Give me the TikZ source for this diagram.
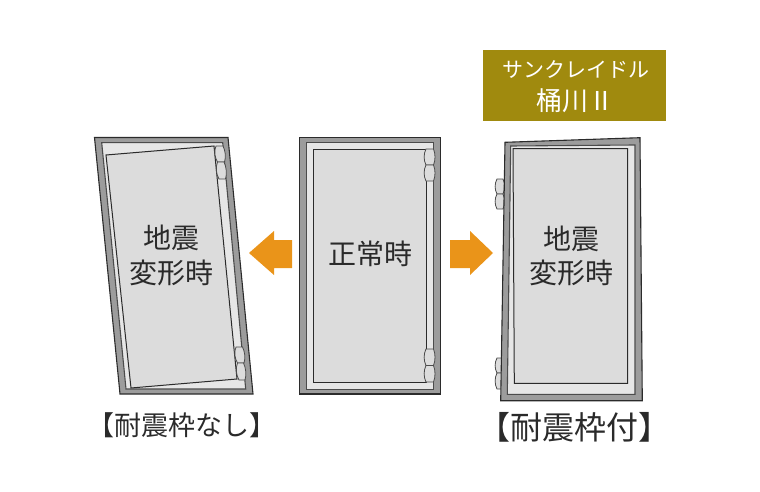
\documentclass[tikz,border=0pt]{standalone}
\usepackage{fontspec}
\setmainfont{Noto Sans CJK JP}
\definecolor{framegray}{HTML}{9C9C9C}
\definecolor{bandgray}{HTML}{E6E6E6}
\definecolor{leafgray}{HTML}{DCDCDC}
\definecolor{inkdark}{HTML}{2B2B2B}
\definecolor{arroworange}{HTML}{EA9419}
\definecolor{bannergold}{HTML}{A08A0E}
\definecolor{textdark}{HTML}{2A2A2A}
\newcommand{\fs}[1]{\fontsize{#1}{#1}\selectfont}
% left x, right x, top y, bottom y, horizontal slant over the height
\newcommand{\hingeshapepath}[5]{%
  \draw[hingeshape]
    ({#1+2},#3) -- ({#2-2},#3)
    .. controls ({#2+#5*0.3},{#3+0.3*(#4-#3)}) and ({#2+#5*0.7},{#3+0.7*(#4-#3)}) .. ({#2-2+#5},#4)
    -- ({#1+2+#5},#4)
    .. controls ({#1+#5*0.7-0.5},{#3+0.7*(#4-#3)}) and ({#1+#5*0.3-0.5},{#3+0.3*(#4-#3)}) .. cycle;}
\tikzset{
  frameshape/.style={draw=inkdark,line width=1.1pt,fill=framegray,line join=miter},
  bandshape/.style={draw=inkdark!85,line width=1.1pt,fill=bandgray},
  leafshape/.style={draw=inkdark,line width=1pt,fill=leafgray},
  hingeshape/.style={draw=inkdark!85,line width=.8pt,fill=leafgray},
  arrowshape/.style={fill=arroworange,draw=none},
  doorlabel/.style={text=textdark,inner sep=0pt,font=\fs{28}},
  caplabel/.style={text=textdark,inner sep=0pt},
  bannertext/.style={text=white,inner sep=0pt},
}
\begin{document}
\begin{tikzpicture}[x=1pt,y=-1pt]
\useasboundingbox (0,0) rectangle (760,492);
% left door
\draw[frameshape] (94.5,137.5) -- (228,137.5) -- (253,394) -- (120,394) -- cycle;
\draw[bandshape] (101.7,142.7) -- (222.7,142.7) -- (245.7,389) -- (126,389) -- cycle;
\draw[leafshape] (106,155) -- (214,146) -- (237,379) -- (131,388) -- cycle;
\hingeshapepath{214}{225}{146}{162}{1.5}
\hingeshapepath{215.5}{226}{162}{179}{1.5}
\hingeshapepath{234}{244.5}{347}{363}{1.5}
\hingeshapepath{235.5}{245.5}{363}{380}{1.5}
% centre door
\draw[frameshape] (299.3,137.5) rectangle (440.7,394);
\draw[bandshape] (306.7,142.5) rectangle (433.7,389.3);
\draw[leafshape] (313.7,149.3) rectangle (426.3,382);
\hingeshapepath{424}{435.5}{149}{165}{0}
\hingeshapepath{424}{435.5}{165}{181}{0}
\hingeshapepath{424}{435.5}{349}{365.5}{0}
\hingeshapepath{424}{435.5}{365.5}{382}{0}
% right door
\hingeshapepath{495}{505}{179}{194}{0}
\hingeshapepath{495}{505}{194}{209}{0}
\hingeshapepath{495}{505.5}{358}{373}{0}
\hingeshapepath{495}{505.5}{373}{389}{0}
\draw[frameshape] (505,142.3) -- (640,137.7) -- (642.3,400.7) -- (500.7,400.7) -- cycle;
\draw[bandshape] (510.7,146) -- (635,145) -- (635,394.3) -- (507.3,394.3) -- cycle;
\draw[leafshape] (513,148.5) -- (627.7,148.5) -- (627.7,383.3) -- (514.3,383.3) -- cycle;
% arrows
\fill[arrowshape] (249,253) -- (274,231) -- (274,240) -- (292,240) -- (292,268) -- (274,268) -- (274,275) -- cycle;
\fill[arrowshape] (493,253) -- (470,231) -- (470,240) -- (450,240) -- (450,268) -- (470,268) -- (470,275) -- cycle;
% banner
\fill[bannergold] (483.3,50) rectangle (666,121);
\node[bannertext,font=\fs{21}] (bannertop) at (575.5,70) {サンクレイドル};
\node[bannertext,font=\fs{26}] (bannerbottom) at (575,100.5) {桶川Ⅱ};
% labels
\node[doorlabel] (lefta) at (171,238) {地震};
\node[doorlabel] (leftb) at (171,272.5) {変形時};
\node[doorlabel] (centre) at (370,253.5) {正常時};
\node[doorlabel] (righta) at (571,238.5) {地震};
\node[doorlabel] (rightb) at (571,273) {変形時};
\node[caplabel,font=\fs{27}] (capleft) at (182,425) {【耐震枠なし】};
\node[caplabel,font=\fs{32}] (capright) at (574,427) {【耐震枠付】};
\end{tikzpicture}
\end{document}
